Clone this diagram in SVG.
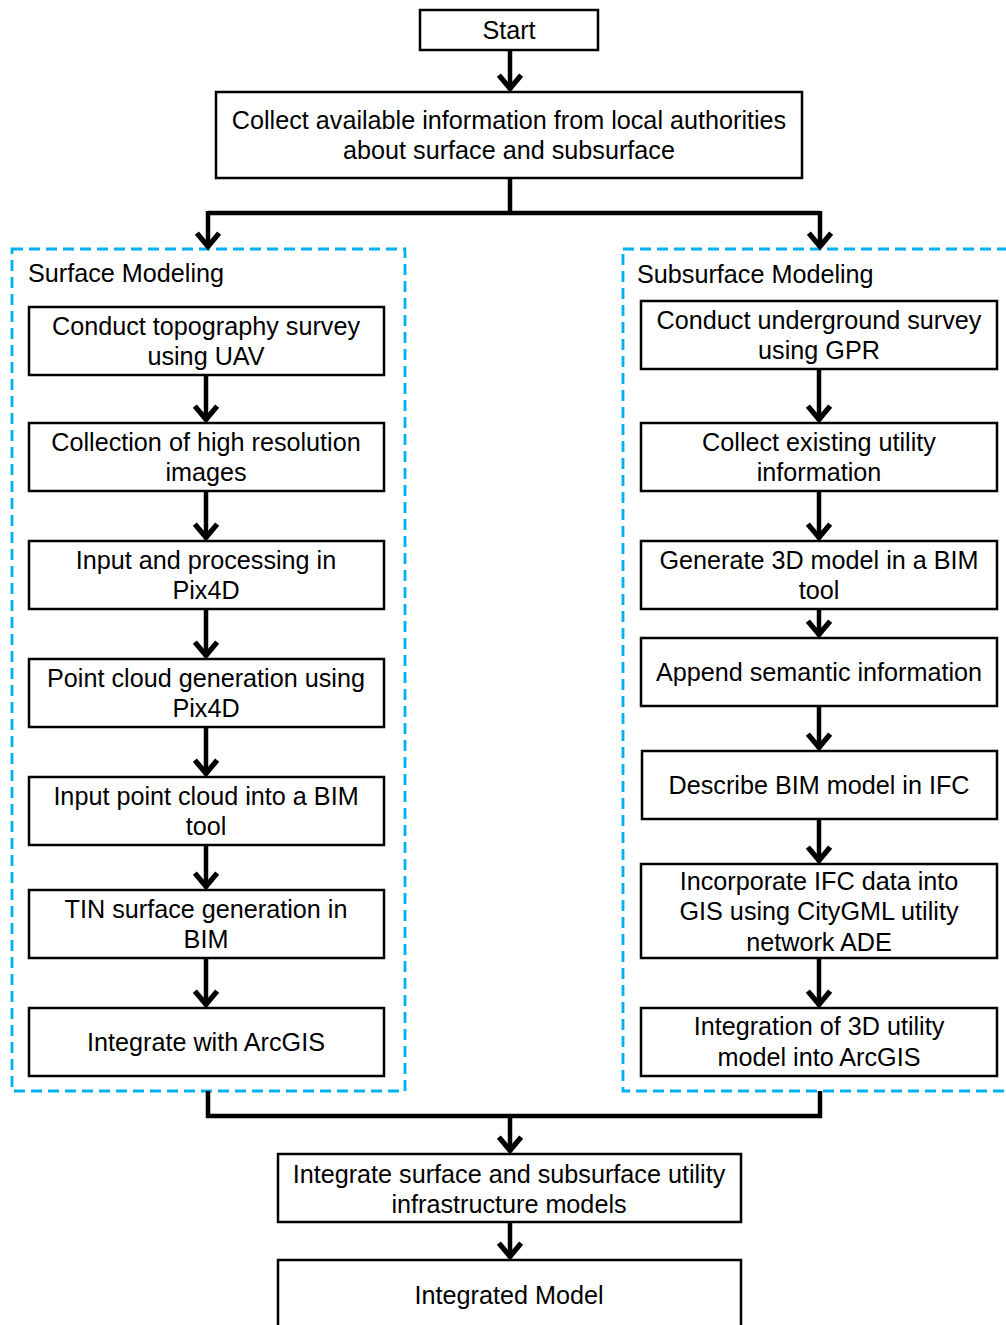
<svg xmlns="http://www.w3.org/2000/svg" width="1006" height="1325" viewBox="0 0 1006 1325">
<style>
.box{fill:#fff;stroke:#000;stroke-width:2.5}
.grp{fill:none;stroke:#00B0F0;stroke-width:2.8;stroke-dasharray:11 6}
.t{font-family:"Liberation Sans",Arial,sans-serif;font-size:25.2px;fill:#000;text-anchor:middle}
.lbl{font-family:"Liberation Sans",Arial,sans-serif;font-size:25.2px;fill:#000}
.c{fill:none;stroke:#000;stroke-width:4.5}
</style>
<defs>
<marker id="ah" markerUnits="userSpaceOnUse" markerWidth="34" markerHeight="34" viewBox="-18 -16 22 32" refX="0" refY="0" orient="auto">
<path d="M-14,-10.5 L-1.5,0 L-14,10.5" fill="none" stroke="#000" stroke-width="5" stroke-linejoin="miter"/>
</marker>
</defs>
<g id="groups">
<rect id="surface-group" class="grp" x="12" y="249" width="393" height="842"/>
<text class="lbl" x="28" y="282">Surface Modeling</text>
<rect id="subsurface-group" class="grp" x="623" y="249" width="390" height="842"/>
<text class="lbl" x="637" y="283">Subsurface Modeling</text>
</g>
<g id="connectors">
<path class="c" d="M510,50 V90" marker-end="url(#ah)"/>
<path class="c" d="M510,178 V213 M208,213 H820" />
<path class="c" d="M208,211 V248" marker-end="url(#ah)"/>
<path class="c" d="M820,211 V248" marker-end="url(#ah)"/>
<path class="c" d="M206,375 V421" marker-end="url(#ah)"/>
<path class="c" d="M206,491 V539" marker-end="url(#ah)"/>
<path class="c" d="M206,609 V657" marker-end="url(#ah)"/>
<path class="c" d="M206,727 V775" marker-end="url(#ah)"/>
<path class="c" d="M206,845 V888" marker-end="url(#ah)"/>
<path class="c" d="M206,958 V1006" marker-end="url(#ah)"/>
<path class="c" d="M819,369 V421" marker-end="url(#ah)"/>
<path class="c" d="M819,491 V539" marker-end="url(#ah)"/>
<path class="c" d="M819,609 V636" marker-end="url(#ah)"/>
<path class="c" d="M819,706 V749" marker-end="url(#ah)"/>
<path class="c" d="M819,819 V862" marker-end="url(#ah)"/>
<path class="c" d="M819,958 V1006" marker-end="url(#ah)"/>
<path class="c" d="M208,1091 V1116 H820 V1091"/>
<path class="c" d="M510,1116 V1152" marker-end="url(#ah)"/>
<path class="c" d="M510,1222 V1258" marker-end="url(#ah)"/>
</g>
<g id="start"><rect class="box" x="420" y="10" width="178" height="40"/><text class="t" x="509" y="39">Start</text></g>
<g id="collect"><rect class="box" x="216" y="92" width="586" height="86"/><text class="t" x="509" y="129">Collect available information from local authorities</text><text class="t" x="509" y="159">about surface and subsurface</text></g>

<g id="s1"><rect class="box" x="29" y="307" width="355" height="68"/><text class="t" x="206" y="335">Conduct topography survey</text><text class="t" x="206" y="365">using UAV</text></g>
<g id="s2"><rect class="box" x="29" y="423" width="355" height="68"/><text class="t" x="206" y="451">Collection of high resolution</text><text class="t" x="206" y="481">images</text></g>
<g id="s3"><rect class="box" x="29" y="541" width="355" height="68"/><text class="t" x="206" y="569">Input and processing in</text><text class="t" x="206" y="599">Pix4D</text></g>
<g id="s4"><rect class="box" x="29" y="659" width="355" height="68"/><text class="t" x="206" y="687">Point cloud generation using</text><text class="t" x="206" y="717">Pix4D</text></g>
<g id="s5"><rect class="box" x="29" y="777" width="355" height="68"/><text class="t" x="206" y="805">Input point cloud into a BIM</text><text class="t" x="206" y="835">tool</text></g>
<g id="s6"><rect class="box" x="29" y="890" width="355" height="68"/><text class="t" x="206" y="918">TIN surface generation in</text><text class="t" x="206" y="948">BIM</text></g>
<g id="s7"><rect class="box" x="29" y="1008" width="355" height="68"/><text class="t" x="206" y="1051">Integrate with ArcGIS</text></g>

<g id="u1"><rect class="box" x="641" y="301" width="356" height="68"/><text class="t" x="819" y="329">Conduct underground survey</text><text class="t" x="819" y="359">using GPR</text></g>
<g id="u2"><rect class="box" x="641" y="423" width="356" height="68"/><text class="t" x="819" y="451">Collect existing utility</text><text class="t" x="819" y="481">information</text></g>
<g id="u3"><rect class="box" x="641" y="541" width="356" height="68"/><text class="t" x="819" y="569">Generate 3D model in a BIM</text><text class="t" x="819" y="599">tool</text></g>
<g id="u4"><rect class="box" x="641" y="638" width="356" height="68"/><text class="t" x="819" y="681">Append semantic information</text></g>
<g id="u5"><rect class="box" x="642" y="751" width="355" height="68"/><text class="t" x="819" y="794">Describe BIM model in IFC</text></g>
<g id="u6"><rect class="box" x="641" y="864" width="356" height="94"/><text class="t" x="819" y="890">Incorporate IFC data into</text><text class="t" x="819" y="920">GIS using CityGML utility</text><text class="t" x="819" y="951">network ADE</text></g>
<g id="u7"><rect class="box" x="641" y="1008" width="356" height="68"/><text class="t" x="819" y="1035">Integration of 3D utility</text><text class="t" x="819" y="1066">model into ArcGIS</text></g>

<g id="integrate"><rect class="box" x="278" y="1154" width="463" height="68"/><text class="t" x="509" y="1183">Integrate surface and subsurface utility</text><text class="t" x="509" y="1213">infrastructure models</text></g>
<g id="model"><rect class="box" x="278" y="1260" width="463" height="80"/><text class="t" x="509" y="1304">Integrated Model</text></g>
</svg>
